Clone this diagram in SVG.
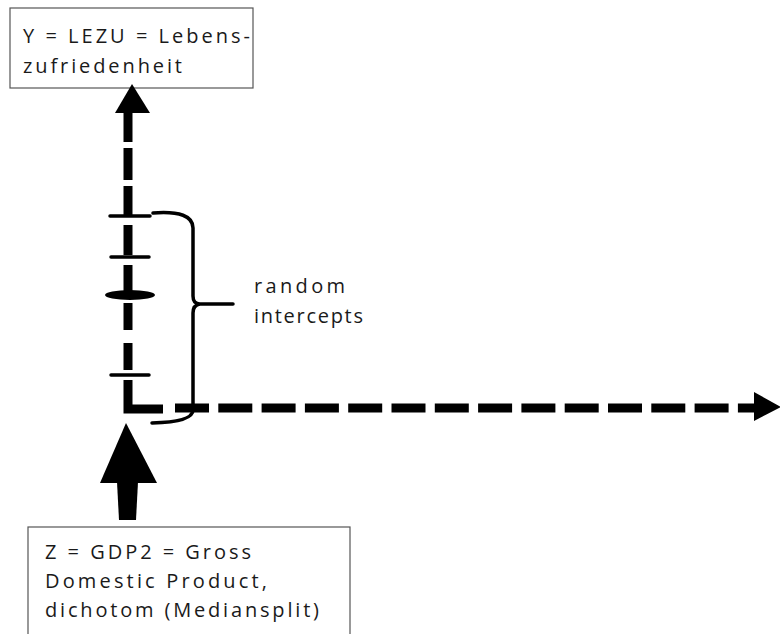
<svg xmlns="http://www.w3.org/2000/svg" width="780" height="634" viewBox="0 0 780 634">
<style>
.box{fill:#fff;stroke:#555;stroke-width:1.2}
.t{font-family:"Open Sans","Noto Sans","Liberation Sans",sans-serif;font-size:20px;fill:#1a1a1a}
.thick{stroke:#000;fill:none}
.tick{stroke:#000;stroke-width:3.5;stroke-linecap:round}
.head{fill:#000}
</style>
<rect width="780" height="634" fill="#fff"/>
<g id="node-y">
<rect class="box" x="10" y="8" width="243" height="80"/>
<text class="t" x="23" y="43" textLength="227" lengthAdjust="spacing">Y = LEZU = Lebens-</text>
<text class="t" x="23" y="73" textLength="159" lengthAdjust="spacing">zufriedenheit</text>
</g>
<g id="node-z">
<rect class="box" x="28" y="527" width="322" height="115"/>
<text class="t" x="45" y="559" textLength="206" lengthAdjust="spacing">Z = GDP2 = Gross</text>
<text class="t" x="45" y="588" textLength="222" lengthAdjust="spacing">Domestic Product,</text>
<text class="t" x="45" y="617" textLength="274" lengthAdjust="spacing">dichotom (Mediansplit)</text>
</g>
<g id="label-random">
<text class="t" x="254" y="293" textLength="91" lengthAdjust="spacing">random</text>
<text class="t" x="254" y="323" textLength="109" lengthAdjust="spacing">intercepts</text>
</g>
<g id="connectors">
<polygon class="head" points="132,84 150,113 115,113"/>
<g class="thick" stroke-width="9">
<line x1="128" y1="110" x2="128" y2="142"/>
<line x1="128" y1="148" x2="128" y2="180"/>
<line x1="128" y1="186" x2="128" y2="215"/>
<line x1="128" y1="225" x2="128" y2="255"/>
<line x1="128" y1="265" x2="128" y2="292"/>
<line x1="128" y1="303" x2="128" y2="330"/>
<line x1="128" y1="343" x2="128" y2="370"/>
<path d="M128 380 V409 H163" stroke-linejoin="miter"/>
<line x1="175" y1="408" x2="757" y2="408" stroke-dasharray="34 9.3"/>
</g>
<polygon class="head" points="754,392 781,407 754,421"/>
<polygon class="head" points="126,423 157,483 100,483"/>
<polygon class="head" points="117,482 138,482 136,520 119,520"/>
<line class="tick" x1="110" y1="216" x2="150" y2="216"/>
<line class="tick" x1="111" y1="257" x2="149" y2="257"/>
<line class="tick" x1="111" y1="375" x2="149" y2="375"/>
<ellipse cx="130" cy="295" rx="25" ry="5" fill="#000"/>
<path d="M153 213 Q193 210 193 228 V296 Q193 304 200 304 L233 304 M200 304 Q193 305 193 313 V410 Q193 422 152 423" fill="none" stroke="#000" stroke-width="3.5" stroke-linecap="round" stroke-linejoin="round"/>
</g>
</svg>
